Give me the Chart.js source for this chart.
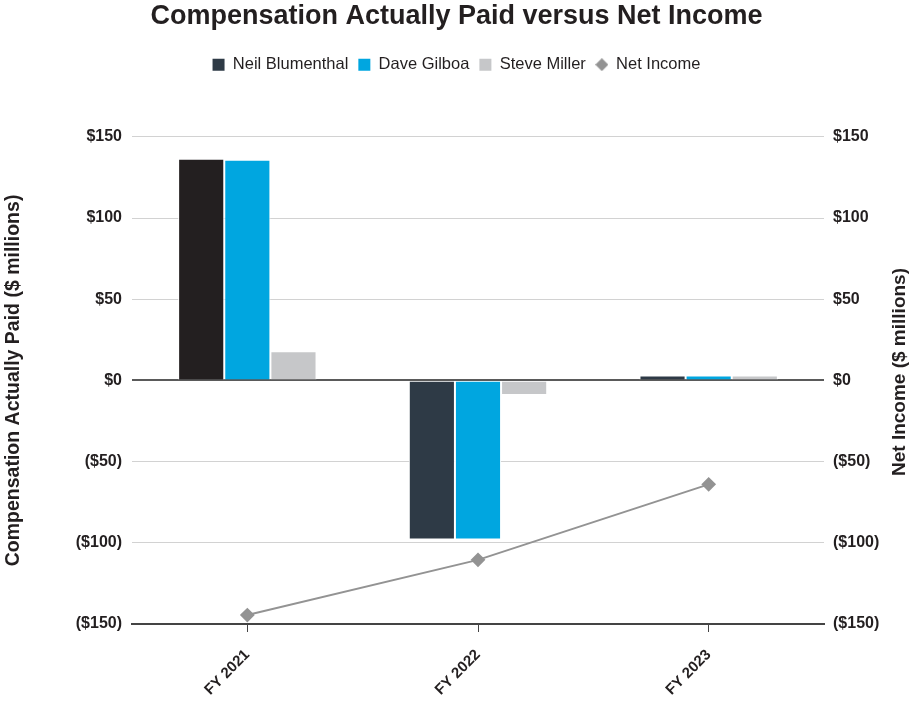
<!DOCTYPE html>
<html>
<head>
<meta charset="utf-8">
<script src="https://cdn.jsdelivr.net/npm/chart.js@4.4.1/dist/chart.umd.min.js"></script>
<style>
  body { margin: 0; background: #fff; }
  #wrap { width: 913px; height: 704px; position: relative; }
</style>
</head>
<body>
<div id="wrap"><canvas id="cap-chart"></canvas></div>
<script>
const years = ["FY 2021", "FY 2022", "FY 2023"];
const neilBlumenthal = [136.5, -98, 3];
const daveGilboa = [136, -98, 3];
const steveMiller = [18, -9, 3];
const netIncome = [-144.5, -110.5, -64];
const yTicks = [-150, -100, -50, 0, 50, 100, 150];

const FONT = "'Liberation Sans', Arial, Helvetica, sans-serif";
const TEXT = '#231f20';

const money = (v) => v < 0 ? '($' + (-v) + ')' : '$' + v;

// small diamond for the legend (the chart points are bigger)
const legendDiamond = document.createElement('canvas');
legendDiamond.width = 13;
legendDiamond.height = 13;
(function () {
  const c = legendDiamond.getContext('2d');
  c.fillStyle = '#939393';
  c.beginPath();
  c.moveTo(6.5, 0);
  c.lineTo(13, 6.5);
  c.lineTo(6.5, 13);
  c.lineTo(0, 6.5);
  c.closePath();
  c.fill();
})();

// right axis title reads bottom-to-top in the reference, so draw it by hand
const rightTitle = {
  id: 'rightTitle',
  afterDraw(chart) {
    const ctx = chart.ctx;
    ctx.save();
    ctx.translate(900, 372);
    ctx.rotate(-Math.PI / 2);
    ctx.font = 'bold 19px ' + FONT;
    ctx.fillStyle = TEXT;
    ctx.textAlign = 'center';
    ctx.textBaseline = 'middle';
    ctx.fillText('Net Income ($ millions)', 0, 0);
    ctx.restore();
  }
};

// extra room between legend and plot
const legendGap = {
  id: 'legendGap',
  beforeInit(chart) {
    const origFit = chart.legend.fit;
    chart.legend.fit = function () {
      origFit.bind(chart.legend)();
      this.height += 54;
    };
  }
};

let ctx = document.getElementById('cap-chart');
let myChart = new Chart(ctx, {
  type: 'bar',
  data: {
    labels: years,
    datasets: [
      {
        label: 'Neil Blumenthal',
        data: neilBlumenthal,
        backgroundColor: ['#231f20', '#2e3a46', '#2e3a46'],
        borderColor: '#ffffff',
        borderWidth: 1,
        pointStyle: 'rect',
        yAxisID: 'y',
        order: 1
      },
      {
        label: 'Dave Gilboa',
        data: daveGilboa,
        backgroundColor: '#00a6e0',
        borderColor: '#ffffff',
        borderWidth: 1,
        pointStyle: 'rect',
        yAxisID: 'y',
        order: 1
      },
      {
        label: 'Steve Miller',
        data: steveMiller,
        backgroundColor: '#c6c7c9',
        borderColor: '#ffffff',
        borderWidth: 1,
        pointStyle: 'rect',
        yAxisID: 'y',
        order: 1
      },
      {
        type: 'line',
        label: 'Net Income',
        data: netIncome,
        borderColor: '#939393',
        backgroundColor: '#939393',
        borderWidth: 2,
        pointStyle: 'rectRot',
        pointRadius: 6,
        pointHoverRadius: 6,
        fill: false,
        yAxisID: 'y2',
        order: 0
      }
    ]
  },
  options: {
    responsive: true,
    maintainAspectRatio: false,
    animation: false,
    layout: { padding: { left: 0, right: 0, top: 0, bottom: 0 } },
    datasets: {
      bar: { categoryPercentage: 0.6, barPercentage: 1.0 }
    },
    plugins: {
      title: {
        display: true,
        text: 'Compensation Actually Paid versus Net Income',
        color: TEXT,
        font: { family: FONT, size: 27, weight: 'bold' },
        padding: { top: 0, bottom: 14 }
      },
      legend: {
        labels: {
          usePointStyle: true,
          boxWidth: 12,
          boxHeight: 12,
          padding: 10,
          color: TEXT,
          font: { family: FONT, size: 16.5 },
          sort: (a, b) => a.datasetIndex - b.datasetIndex,
          generateLabels: (chart) => {
            const items = Chart.defaults.plugins.legend.labels.generateLabels(chart);
            items.forEach(it => {
              if (it.datasetIndex === 3) it.pointStyle = legendDiamond;
              if (it.datasetIndex === 0) { it.fillStyle = '#2e3a46'; }
              it.lineWidth = 0;
            });
            return items;
          }
        }
      },
      tooltip: { enabled: false }
    },
    scales: {
      x: {
        offset: true,
        grid: {
          offset: false,
          drawOnChartArea: false,
          tickLength: 8,
          color: '#444444'
        },
        border: { display: true, color: '#444444', width: 2 },
        ticks: {
          maxRotation: 45,
          minRotation: 45,
          padding: 14,
          color: TEXT,
          font: { family: FONT, size: 15, weight: 'bold' }
        },
        afterFit: (scale) => { scale.height = 80; }
      },
      y: {
        position: 'left',
        min: -150,
        max: 150,
        afterBuildTicks: (scale) => { scale.ticks = yTicks.map(v => ({ value: v })); },
        grid: {
          drawTicks: false,
          color: (c) => c.tick && c.tick.value === 0 ? '#5a5a5a' : (c.tick && c.tick.value === -150 ? '#444444' : '#d2d2d2'),
          lineWidth: (c) => c.tick && (c.tick.value === 0 || c.tick.value === -150) ? 2 : 1
        },
        border: { display: false },
        ticks: {
          padding: 10,
          color: TEXT,
          font: { family: FONT, size: 16, weight: 'bold' },
          callback: (v) => money(v)
        },
        title: {
          display: true,
          text: 'Compensation Actually Paid ($ millions)',
          color: TEXT,
          font: { family: FONT, size: 19.5, weight: 'bold' },
          padding: { top: 2, bottom: 0 }
        },
        afterFit: (scale) => { scale.width = 132; }
      },
      y2: {
        position: 'right',
        min: -150,
        max: 150,
        afterBuildTicks: (scale) => { scale.ticks = yTicks.map(v => ({ value: v })); },
        grid: { drawOnChartArea: false, drawTicks: false },
        border: { display: false },
        ticks: {
          padding: 9,
          color: TEXT,
          font: { family: FONT, size: 16, weight: 'bold' },
          callback: (v) => money(v)
        },
        afterFit: (scale) => { scale.width = 89; }
      }
    }
  },
  plugins: [legendGap, rightTitle]
});
</script>
</body>
</html>
